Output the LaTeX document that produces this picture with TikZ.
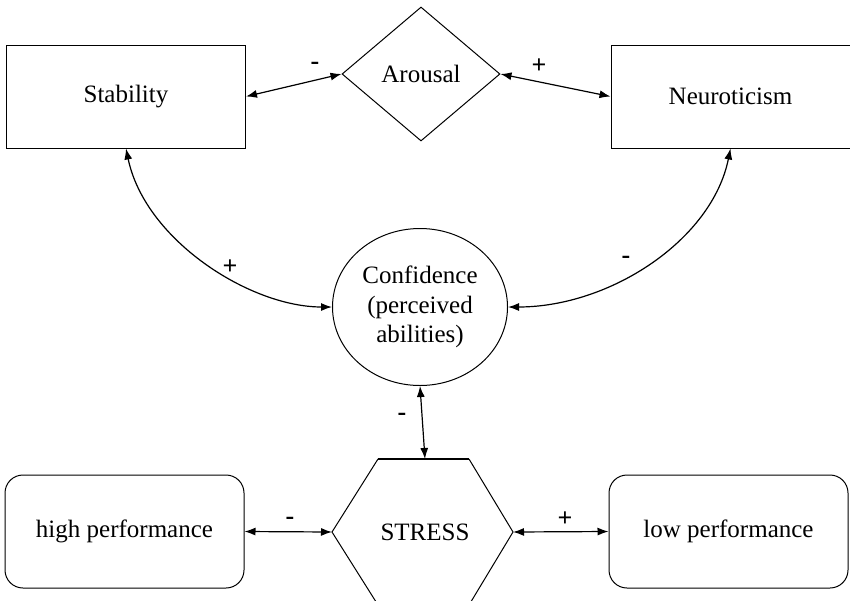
\documentclass[tikz,border=0pt]{standalone}
\usepackage{fontspec}
\setmainfont{Liberation Serif}
\newfontfamily\tnr{Liberation Serif}
\usetikzlibrary{shapes.geometric,arrows.meta}
\begin{document}
\begin{tikzpicture}[x=1pt,y=-1pt,
  txt/.style={font=\tnr\fontsize{25}{29.5}\selectfont},
  box/.style={draw,line width=1pt,minimum width=239pt,minimum height=103pt,inner sep=0pt,txt},
  rbox/.style={box,rounded corners=18pt,minimum height=113pt},
  lbl/.style={font=\tnr\bfseries\fontsize{26}{26}\selectfont,inner sep=0pt},
  link/.style={line width=1.2pt,{Latex[length=11pt,width=8pt]}-{Latex[length=11pt,width=8pt]}}]
\clip (0,0) rectangle (850,600);
\fill[white] (0,0) rectangle (850,600);
\node[box] (stab) at (126,96.5) {Stability};
\node[box] (neuro) at (730.5,96.5) {Neuroticism};
\node[draw,diamond,line width=1pt,minimum width=158pt,minimum height=134pt,inner sep=0pt,txt] (arousal) at (421,74) {Arousal};
\node[draw,ellipse,line width=1pt,minimum width=175pt,minimum height=157pt,inner sep=0pt,txt,align=center] (conf) at (420,307) {Confidence\\(perceived\\abilities)};
\coordinate (hT1) at (378,459);
\coordinate (hT2) at (469,459);
\coordinate (hR) at (513,532);
\coordinate (hB2) at (469,605);
\coordinate (hB1) at (378,605);
\coordinate (hL) at (332,532);
\coordinate (hTop) at (425,459);
\draw[line width=1pt] (hT2) -- (hR) -- (hB2) -- (hB1) -- (hL) -- (hT1);
\draw[line width=2pt] (hT1) -- (hT2);
\node[txt] (stress) at (425,532) {STRESS};
\node[rbox] (high) at (124.5,531.5) {high performance};
\node[rbox] (low) at (728.5,531.5) {low performance};
\draw[link] (stab.east) -- (arousal.west);
\draw[link] (arousal.east) -- (neuro.west);
\draw[link] (stab.south) .. controls (145,240) and (250,307) .. (conf.west);
\draw[link] (neuro.south) .. controls (712,240) and (610,307) .. (conf.east);
\draw[link] (conf.south) -- (hTop);
\draw[link] (high.east) -- (hL);
\draw[link] (hR) -- (low.west);
\node[lbl] (l1) at (315,66) {-};
\node[lbl] (l2) at (539,66) {+};
\node[lbl] (l3) at (230,267) {+};
\node[lbl] (l4) at (626,260) {-};
\node[lbl] (l5) at (402,417) {-};
\node[lbl] (l6) at (290,521) {-};
\node[lbl] (l7) at (565,519) {+};
\end{tikzpicture}
\end{document}
